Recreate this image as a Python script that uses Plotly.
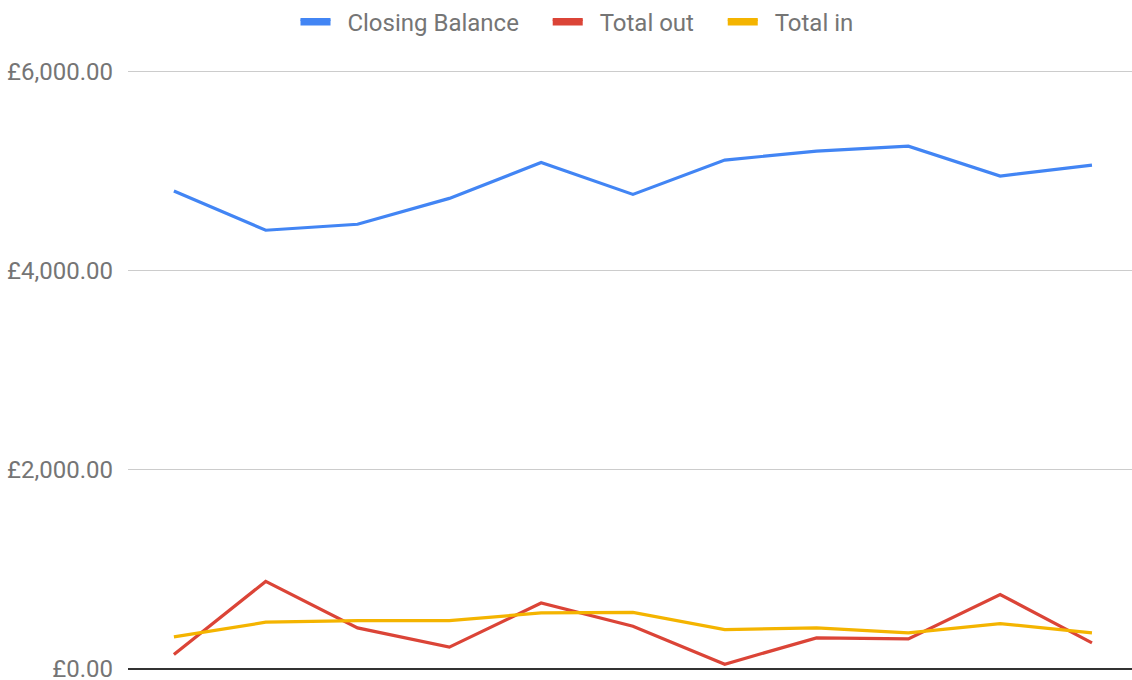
import plotly.graph_objects as go

categories = list(range(11))
closing_balance = [4800, 4405, 4465, 4725, 5085, 4765, 5110, 5200, 5250, 4950, 5060]
total_out = [143, 877, 410, 217, 660, 427, 45, 310, 300, 745, 260]
total_in = [320, 467, 483, 483, 560, 565, 393, 410, 360, 453, 360]
y_ticks = [0, 2000, 4000, 6000]
y_tick_text = ["£0.00", "£2,000.00", "£4,000.00", "£6,000.00"]

series = [
    ("Closing Balance", closing_balance, "#4285F4"),
    ("Total out", total_out, "#DB4437"),
    ("Total in", total_in, "#F4B400"),
]

NB = "\u00a0"
fig = go.Figure()
for name, vals, col in series:
    fig.add_trace(go.Scatter(x=categories, y=vals, mode="lines", name=name,
                             line=dict(color=col, width=3.2), showlegend=False,
                             hoverinfo="skip"))
for i, (name, vals, col) in enumerate(series):
    label = NB * 2 + name + (NB * 4 if i < len(series) - 1 else "")
    fig.add_trace(go.Scatter(x=[None], y=[None], mode="lines", name=label,
                             fill="toself", fillcolor=col,
                             line=dict(color=col, width=3), showlegend=True))

fig.update_layout(
    width=1132, height=680,
    margin=dict(l=128, r=0, t=70, b=11),
    paper_bgcolor="white", plot_bgcolor="white",
    font=dict(family="Roboto", size=24, color="#757575"),
    legend=dict(orientation="h", x=577 / 1132, xref="container", xanchor="center",
                y=1 - 22 / 680, yref="container", yanchor="middle",
                font=dict(size=24, color="#757575"),
                itemwidth=30, tracegroupgap=0),
    xaxis=dict(range=[-0.5, 10.436], showgrid=False, showticklabels=False,
               zeroline=False, showline=False, ticks="", automargin=False),
    yaxis=dict(range=[-3, 6015], tickvals=y_ticks, ticktext=y_tick_text,
               showgrid=True, gridcolor="#cccccc",
               gridwidth=1, zeroline=True, zerolinecolor="#333333",
               zerolinewidth=1.5, showline=False, ticks="",
               ticklabelstandoff=14, ticklabeloverflow="allow",
               automargin=False,
               tickfont=dict(size=24, color="#757575")),
)

fig.write_html("out.html", config={"displayModeBar": False},
               post_script="document.body.style.margin='0';")
